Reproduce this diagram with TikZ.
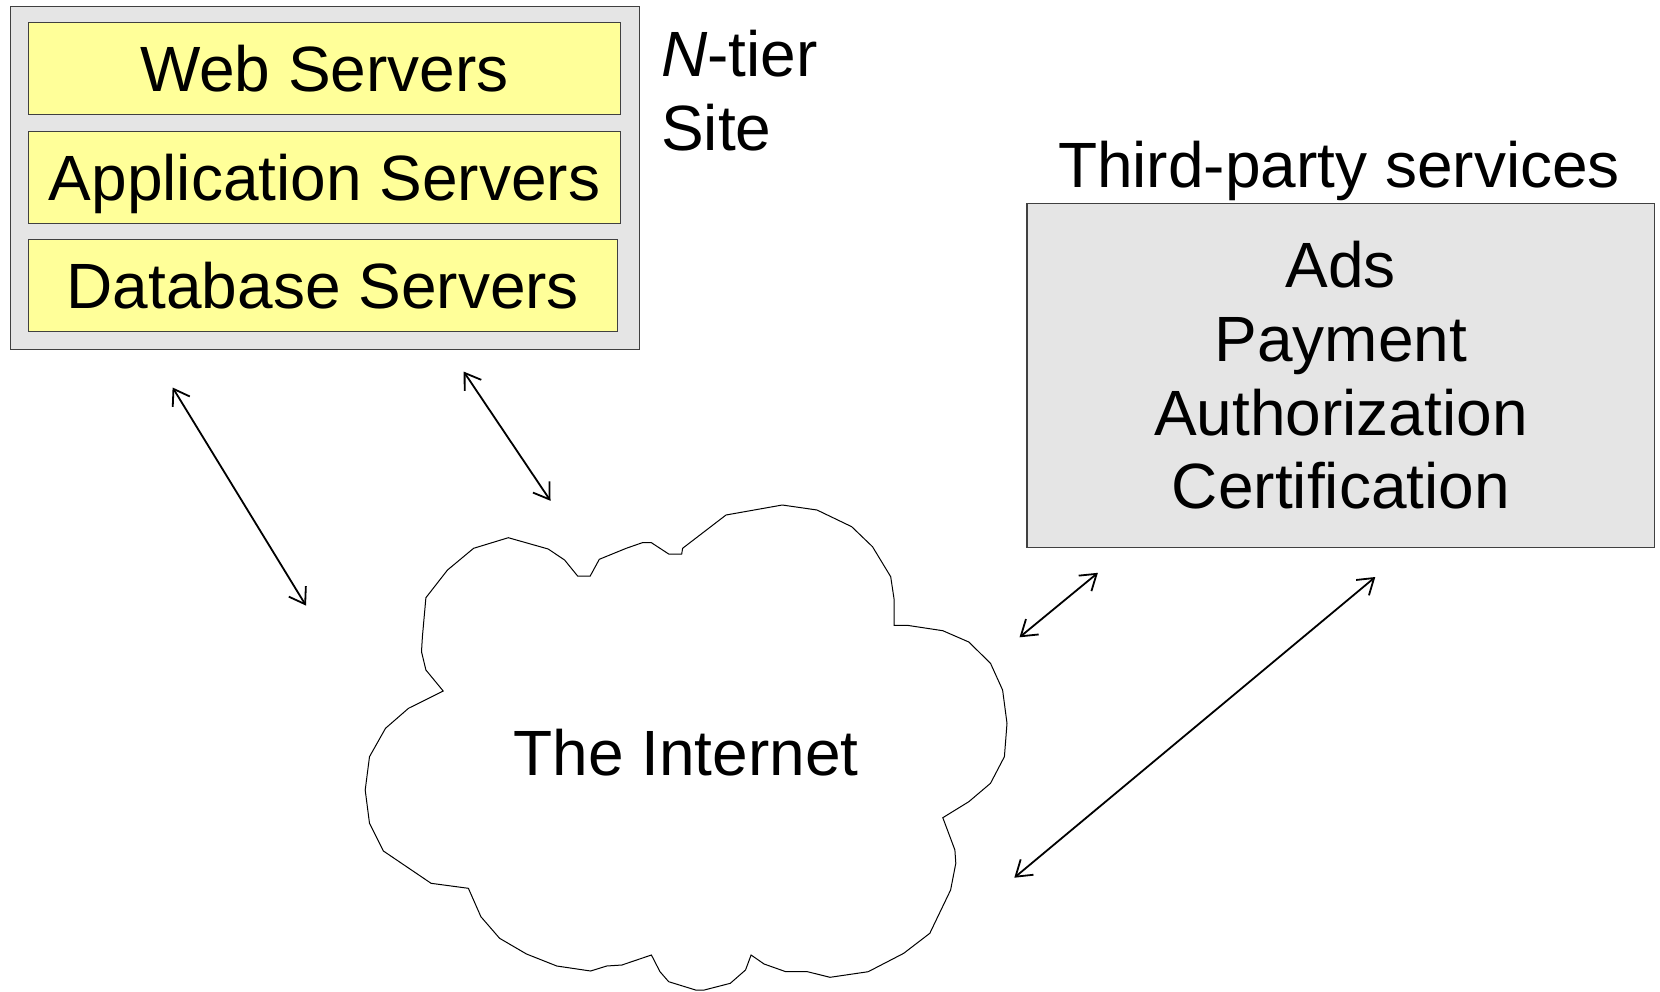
\documentclass[tikz,border=0pt]{standalone}
\usepackage{fontspec}
\setmainfont{Liberation Sans}
\usetikzlibrary{arrows.meta}
\definecolor{boxgray}{HTML}{E5E5E5}
\definecolor{tieryellow}{HTML}{FFFF99}
\definecolor{edgegray}{HTML}{404040}
\begin{document}
\begin{tikzpicture}[x=1pt,y=-1pt,
  bigfont/.style={font=\fontsize{64}{73.6}\selectfont},
  tierbox/.style={draw=edgegray, fill=tieryellow, line width=1.2pt, inner sep=0pt, text depth=0pt, bigfont},
  graybox/.style={draw=edgegray, fill=boxgray, line width=1.2pt, inner sep=0pt},
  link/.style={line width=1.8pt, {Straight Barb[length=15pt,width=20pt]}-{Straight Barb[length=15pt,width=20pt]}},
  cloudline/.style={draw=black, fill=white, line width=1pt, line join=miter}
]
\useasboundingbox (0,0) rectangle (1660,991);

% N-tier site
\node[graybox, minimum width=628.9pt, minimum height=343pt] (site) at (325.05,177.9) {};
\node[tierbox, minimum width=591.8pt, minimum height=92.1pt] (web) at (324.5,68.25) {Web Servers};
\node[tierbox, minimum width=591.8pt, minimum height=92.1pt] (app) at (324.5,177.35) {Application Servers};
\node[tierbox, minimum width=588.6pt, minimum height=92.1pt] (db) at (322.9,285.35) {Database Servers};
\node[bigfont, anchor=west, align=left, inner sep=0pt] (ntier) at (661,90.8) {\textit{N}-tier\\Site};

% Third-party services
\node[bigfont, anchor=base, inner sep=0pt] (tptitle) at (1339,187) {Third-party services};
\node[graybox, bigfont, align=center, minimum width=627.7pt, minimum height=344.1pt] (svc) at (1340.85,375.35)
  {Ads\\Payment\\Authorization\\Certification};

% Cloud
\draw[cloudline] (508.3,537.7) -- (548.2,549) -- (564.6,560) -- (577.6,576) -- (590.2,576) -- (599.3,559.3)
  -- (626.2,548.3) -- (642.3,542.7) -- (651.4,542.7) -- (668.7,554) -- (681.7,554) -- (682.6,548.3)
  -- (726,515) -- (782.3,505) -- (817,510) -- (851.7,526.7) -- (872.5,546.7) -- (890.7,576.7)
  -- (894.2,600) -- (894.2,625.3) -- (907.2,625.3) -- (942.8,630.7) -- (968.8,642) -- (990.5,663.3)
  -- (1002.6,690) -- (1007,723.3) -- (1004.4,756.7) -- (990.5,783.3) -- (968.8,801.7) -- (942.8,817.7)
  -- (954.9,850) -- (955.8,863.3) -- (950.6,890) -- (929.8,933.3) -- (903.7,953.3) -- (868.2,971.7)
  -- (830,977.3) -- (807.5,971.7) -- (785.8,971.7) -- (764.1,964) -- (751.1,955) -- (745.5,970)
  -- (730.3,983.3) -- (704.3,990) -- (695.6,990) -- (668.7,981.7) -- (660,971.7) -- (651.4,955)
  -- (621.9,965) -- (606.7,966) -- (590.6,971) -- (556.8,966) -- (526.5,954) -- (499.6,938.3)
  -- (480.9,916.7) -- (468.4,888.3) -- (431.1,883.3) -- (383.4,851) -- (369.5,823.3) -- (365.2,790)
  -- (369.5,756.7) -- (385.5,728.3) -- (408.5,708.3) -- (443.2,691) -- (425.9,670) -- (421.5,651.7)
  -- (422.4,636.7) -- (425.9,597.7) -- (447.5,570) -- (473.6,548.3) -- cycle;
\node[bigfont, inner sep=0pt, text depth=0pt] (internet) at (686,752) {The Internet};

% Arrow end points
\coordinate (a1s) at (172.6,387.5);
\coordinate (a1e) at (306,605.6);
\coordinate (a2s) at (463.7,371.6);
\coordinate (a2e) at (550.5,500.8);
\coordinate (a3s) at (1097.9,572.8);
\coordinate (a3e) at (1019.5,637.3);
\coordinate (a4s) at (1375.3,577);
\coordinate (a4e) at (1014.3,877.7);

\draw[link] (a1s) -- (a1e);
\draw[link] (a2s) -- (a2e);
\draw[link] (a3s) -- (a3e);
\draw[link] (a4s) -- (a4e);
\end{tikzpicture}
\end{document}
